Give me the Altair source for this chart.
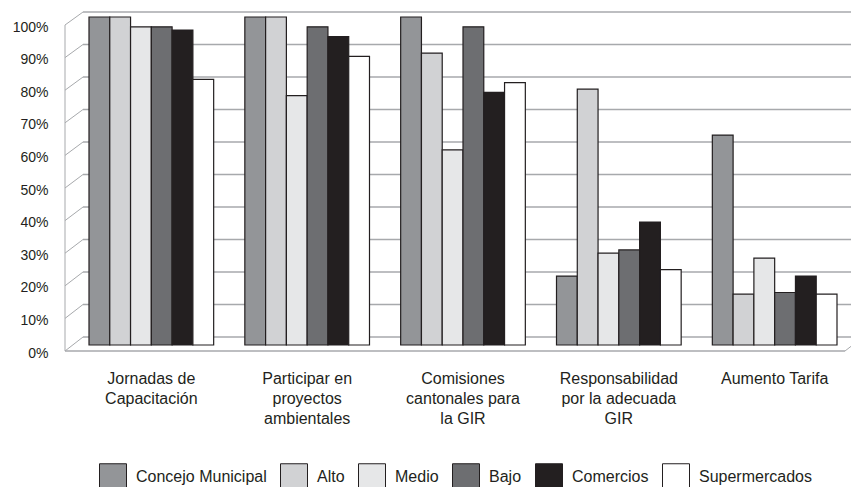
import altair as alt
import pandas as pd

# Survey shares (fraction of respondents) per activity and actor group
categories = [
    "Jornadas de\nCapacitación",
    "Participar en\nproyectos\nambientales",
    "Comisiones\ncantonales para\nla GIR",
    "Responsabilidad\npor la adecuada\nGIR",
    "Aumento Tarifa",
]
series = ["Concejo Municipal", "Alto", "Medio", "Bajo", "Comercios", "Supermercados"]
colors = ["#939598", "#d1d2d4", "#e6e7e8", "#6d6e71", "#231f20", "#ffffff"]

concejo = [1.00, 1.00, 1.00, 0.21, 0.64]
alto = [1.00, 1.00, 0.89, 0.78, 0.155]
medio = [0.97, 0.76, 0.595, 0.28, 0.265]
bajo = [0.97, 0.97, 0.97, 0.29, 0.16]
comercios = [0.96, 0.94, 0.77, 0.375, 0.21]
supermercados = [0.81, 0.88, 0.80, 0.23, 0.155]

tick_values = [i / 10 for i in range(11)]

rows = []
for s, vals in zip(series, [concejo, alto, medio, bajo, comercios, supermercados]):
    for c, v in zip(categories, vals):
        rows.append({"categoria": c, "grupo": s, "valor": v})
bars_df = pd.DataFrame(rows)
ticks_df = pd.DataFrame({"v": tick_values})

W, H = 786, 339
DEPTH = 18          # horizontal depth of the side wall
INK = "#231f20"
GRID = "#a7a9ac"
FONT = "Liberation Sans"

# Front plane of the walls (carries the percentage labels)
front_y = alt.Scale(domain=[0, 1], range=[339, 13])
BACK = "(14 + 325 * datum.v) / 326"   # tick projected onto the back wall

walls = alt.Chart(ticks_df).transform_calculate(vb=BACK)

axis_labels = walls.mark_rule(opacity=0).encode(
    y=alt.Y(
        "v:Q",
        scale=front_y,
        axis=alt.Axis(
            values=tick_values,
            format=".0%",
            title=None,
            domain=False,
            ticks=False,
            grid=False,
            labelPadding=17,
            labelOffset=2,
            labelFontSize=14,
            labelFont=FONT,
            labelColor=INK,
        ),
    ),
    x=alt.value(0),
    x2=alt.value(1),
)

back_grid = walls.mark_rule(color=GRID, strokeWidth=1.5).encode(
    y=alt.Y("vb:Q", scale=front_y, axis=None),
    x=alt.value(DEPTH),
    x2=alt.value(W),
)

side_ticks = walls.mark_rule(color=GRID, strokeWidth=1).encode(
    x=alt.value(0),
    x2=alt.value(DEPTH),
    y=alt.Y("v:Q", scale=front_y, axis=None),
    y2="vb:Q",
)

edge_df = pd.DataFrame({"v": [0.0], "v2": [1.0]})
side_edge = alt.Chart(edge_df).mark_rule(color=GRID, strokeWidth=1).encode(
    x=alt.value(0),
    y=alt.Y("v:Q", scale=front_y, axis=None),
    y2="v2:Q",
)

floor_front = alt.Chart(edge_df).mark_rule(color=GRID, strokeWidth=1.5).encode(
    x=alt.value(0),
    x2=alt.value(W - 6),
    y=alt.Y("v:Q", scale=front_y, axis=None),
)

floor_side = alt.Chart(edge_df).transform_calculate(vb=BACK).mark_rule(
    color=GRID, strokeWidth=1
).encode(
    x=alt.value(W - 6),
    x2=alt.value(W - 6 + DEPTH),
    y=alt.Y("v:Q", scale=front_y, axis=None),
    y2="vb:Q",
)

bars = alt.Chart(bars_df).mark_bar(stroke=INK, strokeWidth=1.2).encode(
    x=alt.X(
        "categoria:N",
        sort=categories,
        scale=alt.Scale(range=[24, 772], paddingInner=0.2, paddingOuter=0),
        axis=alt.Axis(
            title=None,
            domain=False,
            ticks=False,
            labelAngle=0,
            labelPadding=19,
            labelFontSize=16,
            labelFont=FONT,
            labelColor=INK,
            labelLineHeight=20,
            labelExpr="split(datum.label, '\\n')",
        ),
    ),
    xOffset=alt.XOffset("grupo:N", sort=series,
                        scale=alt.Scale(paddingInner=0, paddingOuter=0)),
    y=alt.Y("valor:Q", scale=alt.Scale(domain=[0, 1], range=[333, 5]), axis=None),
    fill=alt.Fill(
        "grupo:N",
        sort=series,
        scale=alt.Scale(domain=series, range=colors),
        legend=alt.Legend(
            title=None,
            orient="none",
            direction="horizontal",
            legendX=34,
            legendY=451,
            symbolType="square",
            symbolSize=729,
            symbolStrokeColor=INK,
            symbolStrokeWidth=1,
            symbolOpacity=1,
            labelFontSize=16,
            labelFont=FONT,
            labelColor=INK,
            labelOffset=9,
            columnPadding=11,
            padding=0,
        ),
    ),
)

chart = (
    alt.layer(axis_labels, back_grid, side_ticks, side_edge, floor_front, floor_side, bars)
    .resolve_scale(y="independent")
    .properties(
        width=W,
        height=H,
        autosize=alt.AutoSizeParams(type="none"),
        padding={"left": 65, "top": 12, "right": 0, "bottom": 136},
        background="white",
    )
    .configure_view(stroke=None)
)

chart.save("out.html", embed_options={"renderer": "svg", "actions": False})
